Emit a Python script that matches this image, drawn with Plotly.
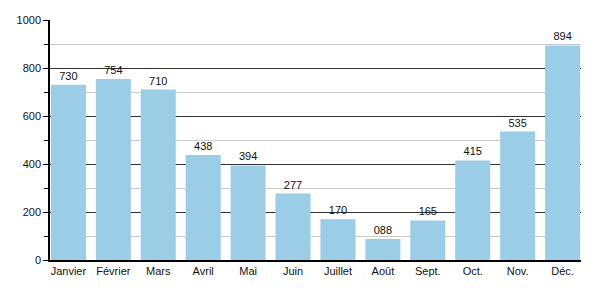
import plotly.graph_objects as go

months = ["Janvier", "Février", "Mars", "Avril", "Mai", "Juin", "Juillet", "Août", "Sept.", "Oct.", "Nov.", "Déc."]
values = [730, 754, 710, 438, 394, 277, 170, 88, 165, 415, 535, 894]
value_labels = ["730", "754", "710", "438", "394", "277", "170", "088", "165", "415", "535", "894"]
y_ticks = [0, 200, 400, 600, 800, 1000]

gap = 0.22
fig = go.Figure(go.Bar(
    x=months, y=values, text=value_labels, textposition="outside",
    textfont=dict(color="#111", size=11, family="Liberation Sans, Arial, sans-serif"),
    marker=dict(color="#9ccde6", line=dict(width=0)),
    cliponaxis=False,
))
fig.update_layout(
    width=600, height=300,
    margin=dict(l=50, r=19, t=20, b=40),
    plot_bgcolor="white", paper_bgcolor="white",
    bargap=gap, showlegend=False,
    font=dict(family="Liberation Sans, Arial, sans-serif", size=11, color="#111"),
    xaxis=dict(showline=True, linecolor="#000", linewidth=1.5, ticks="", showgrid=False,
               range=[-0.5 + gap / 2 - 0.02, len(months) - 0.5 - gap / 2 + 0.02],
               tickfont=dict(size=11)),
    yaxis=dict(range=[0, 1000], tickvals=y_ticks, showline=True, linecolor="#000", linewidth=1.5,
               ticks="outside", ticklen=5, tickcolor="#000", showgrid=True, gridcolor="#333",
               gridwidth=1, zeroline=False,
               minor=dict(dtick=100, ticks="outside", ticklen=4, tickcolor="#000",
                          showgrid=True, gridcolor="#cccccc", gridwidth=1)),
)
fig.write_html("out.html")
